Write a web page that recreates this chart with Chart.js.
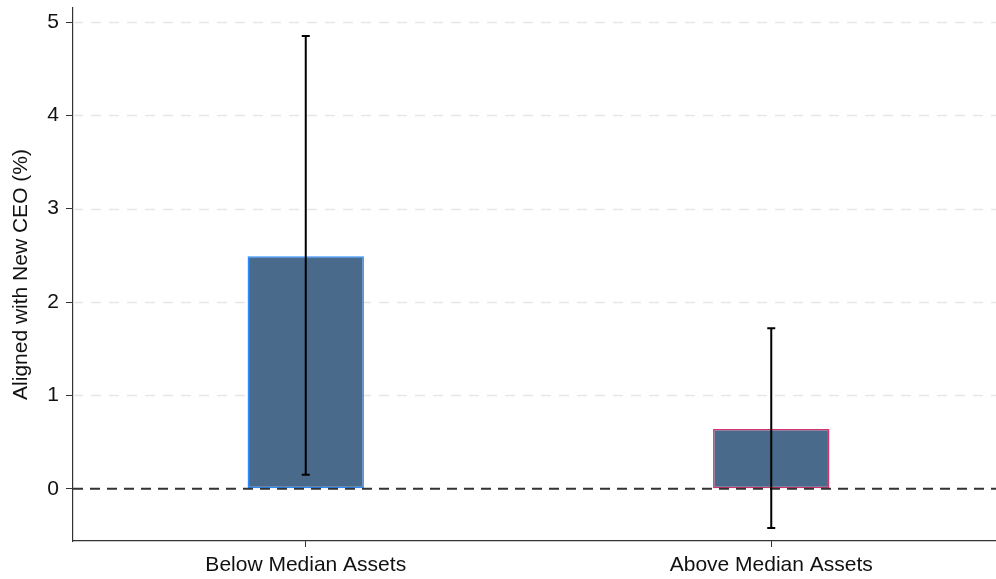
<!DOCTYPE html>
<html>
<head>
<meta charset="utf-8">
<script src="https://cdn.jsdelivr.net/npm/chart.js@4"></script>
<style>
  html, body { margin: 0; padding: 0; background: #ffffff; }
  #c { display: block; }
</style>
</head>
<body>
<canvas id="c" width="996" height="579"></canvas>
<script>
// Point estimates with 95% confidence intervals, split by firm size
const categories = ['Below Median Assets', 'Above Median Assets'];
const estimates = [2.49, 0.64];
const ciLower = [0.15, -0.42];
const ciUpper = [4.85, 1.72];
const yTickValues = [0, 1, 2, 3, 4, 5];
const yTitle = 'Aligned with New CEO (%)';

const barFill = '#496a8b';
const barEdges = ['#2b8cff', '#d2346e'];
const axisInk = '#333333';
const FONT = '"Liberation Sans", Arial, Helvetica, sans-serif';
// The plotting region runs slightly past the right edge of the canvas
const PLOT_OVERHANG = 8;

const overhangPlugin = {
  id: 'overhang',
  afterLayout(chart) {
    const x = chart.scales.x;
    x.right += PLOT_OVERHANG;
    x.width = x.right - x.left;
    x.configure();
    chart.chartArea.right += PLOT_OVERHANG;
    chart.chartArea.width = chart.chartArea.right - chart.chartArea.left;
  }
};

// Dashed horizontal guides at the labelled ticks (except zero)
const guidePlugin = {
  id: 'guides',
  beforeDatasetsDraw(chart) {
    const { ctx, chartArea, scales: { y } } = chart;
    ctx.save();
    ctx.strokeStyle = '#e6e6e6';
    ctx.lineWidth = 1.5;
    ctx.setLineDash([10, 8]);
    yTickValues.forEach(v => {
      if (v === 0) return;
      const py = Math.round(y.getPixelForValue(v)) + 0.5;
      ctx.beginPath();
      ctx.moveTo(chartArea.left, py);
      ctx.lineTo(chartArea.right, py);
      ctx.stroke();
    });
    ctx.restore();
  }
};

// Zero reference line and confidence-interval whiskers on top of the bars
const overlayPlugin = {
  id: 'overlay',
  afterDatasetsDraw(chart) {
    const { ctx, chartArea, scales: { x, y } } = chart;
    ctx.save();
    const y0 = y.getPixelForValue(0);
    ctx.strokeStyle = axisInk;
    ctx.lineWidth = 2;
    ctx.setLineDash([10, 7]);
    ctx.beginPath();
    ctx.moveTo(chartArea.left, y0);
    ctx.lineTo(chartArea.right, y0);
    ctx.stroke();

    ctx.setLineDash([]);
    ctx.strokeStyle = '#000000';
    ctx.lineWidth = 2;
    const cap = 4;
    categories.forEach((c, i) => {
      const px = x.getPixelForValue(i);
      const lo = y.getPixelForValue(ciLower[i]);
      const hi = y.getPixelForValue(ciUpper[i]);
      ctx.beginPath();
      ctx.moveTo(px, lo);
      ctx.lineTo(px, hi);
      ctx.moveTo(px - cap, lo);
      ctx.lineTo(px + cap, lo);
      ctx.moveTo(px - cap, hi);
      ctx.lineTo(px + cap, hi);
      ctx.stroke();
    });
    ctx.restore();
  }
};

new Chart(document.getElementById('c'), {
  type: 'bar',
  data: {
    labels: categories,
    datasets: [{
      data: estimates,
      backgroundColor: barFill,
      borderColor: barEdges,
      borderWidth: 1.5,
      borderSkipped: false,
      barPercentage: 0.25,
      categoryPercentage: 1.0
    }]
  },
  options: {
    responsive: false,
    animation: false,
    devicePixelRatio: 1,
    layout: { padding: { top: 8, right: 0, left: 0, bottom: 0 } },
    plugins: {
      legend: { display: false },
      tooltip: { enabled: false }
    },
    scales: {
      x: {
        type: 'category',
        offset: true,
        grid: {
          offset: false,
          drawOnChartArea: false,
          drawTicks: true,
          tickLength: 6,
          tickColor: axisInk,
          tickWidth: 1
        },
        border: { display: true, color: axisInk, width: 1.2 },
        ticks: {
          color: '#111111',
          font: { family: FONT, size: 21 },
          padding: 6,
          maxRotation: 0
        },
        afterFit(scale) {
          scale.height = 38;
          scale.paddingLeft = 0;
          scale.paddingRight = 0;
        }
      },
      y: {
        min: -0.56,
        max: 5.15,
        afterBuildTicks(scale) {
          scale.ticks = yTickValues.map(v => ({ value: v }));
        },
        grid: {
          drawOnChartArea: false,
          drawTicks: true,
          tickLength: 7,
          tickColor: axisInk,
          tickWidth: 1
        },
        border: { display: true, color: axisInk, width: 1.2 },
        ticks: {
          color: '#111111',
          font: { family: FONT, size: 21 },
          padding: 7
        },
        title: {
          display: true,
          text: yTitle,
          color: '#111111',
          font: { family: FONT, size: 21 },
          padding: { top: 9, bottom: 0 }
        },
        afterFit(scale) {
          scale.width = 73;
          scale.paddingTop = 0;
          scale.paddingBottom = 0;
        }
      }
    }
  },
  plugins: [overhangPlugin, guidePlugin, overlayPlugin]
});
</script>
</body>
</html>
